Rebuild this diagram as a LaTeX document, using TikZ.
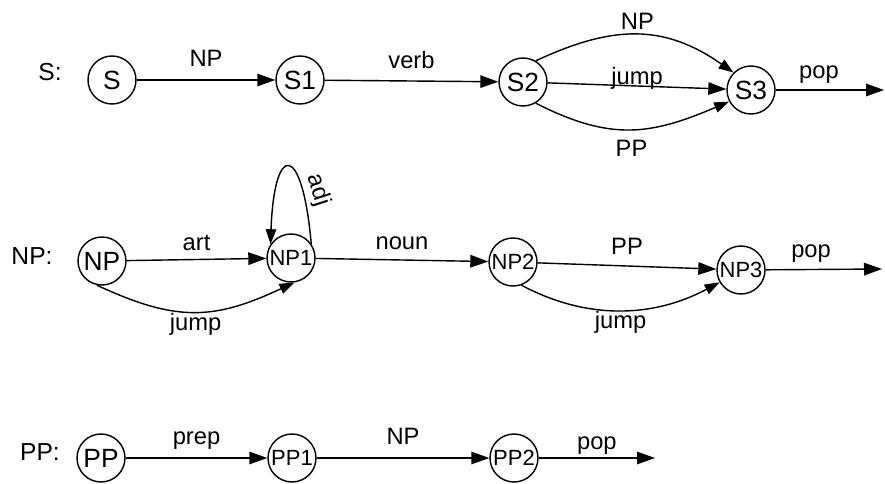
\documentclass[tikz,border=0pt]{standalone}
\usepackage{fontspec}
\setmainfont{Liberation Sans}
\usetikzlibrary{arrows.meta}

\begin{document}
\begin{tikzpicture}[
    zustand/.style={draw, circle, line width=0.8pt, inner sep=0pt, minimum size=0.96cm, font=\fontsize{15}{17}\selectfont},
    klein/.style={font=\fontsize{12.5}{14}\selectfont},
    netz/.style={font=\fontsize{14}{16}\selectfont},
    kante/.style={-{Triangle[length=3.6mm, width=2.5mm]}, line width=0.8pt},
    bogen/.style={-{Triangle[length=3mm, width=2.1mm]}, line width=0.8pt},
    lbl/.style={anchor=base, font=\fontsize{13.5}{15}\selectfont}
]
    \useasboundingbox (0,0) rectangle (17.7,-9.68);

    % Netz S
    \node[netz] (lS) at (1.00,-1.45) {S:};
    \node[zustand] (s) at (2.24,-1.60) {S};
    \node[zustand] (s1) at (6.00,-1.60) {S1};
    \node[zustand] (s2) at (10.46,-1.64) {S2};
    \node[zustand] (s3) at (15.02,-1.80) {S3};
    \coordinate (s4) at (17.68,-1.80);

    \draw[kante] (s) -- node[lbl, yshift=0.26cm] {NP} (s1);
    \draw[kante] (s1) -- node[lbl, yshift=0.24cm] {verb} (s2);
    \draw[kante] (s2) -- node[lbl, yshift=0.02cm] {jump} (s3);
    \draw[bogen] (s2.59) .. controls +(25:1.7) and +(145:1.7) .. node[lbl, yshift=0.1cm] {NP} (s3.135);
    \draw[bogen] (s2.-59) .. controls +(-27:1.7) and +(-157:1.7) .. node[lbl, yshift=-0.55cm] {PP} (s3.-152);
    \draw[kante] (s3) -- node[lbl, pos=0.4, yshift=0.22cm] {pop} (s4);

    % Netz NP
    \node[netz] (lNP) at (0.64,-5.12) {NP:};
    \node[zustand] (np) at (2.04,-5.22) {NP};
    \node[zustand, klein] (np1) at (5.82,-5.16) {NP1};
    \node[zustand, klein] (np2) at (10.26,-5.24) {NP2};
    \node[zustand, klein] (np3) at (14.82,-5.40) {NP3};
    \coordinate (np4) at (17.64,-5.38);

    \draw[kante] (np) -- node[lbl, yshift=0.17cm] {art} (np1);
    \draw[bogen] (np1.35) .. controls +(95:2.05) and +(88:2.05) .. node[lbl, pos=0.2, anchor=south, rotate=-72, inner sep=2pt] {adj} (np1.146);
    \draw[bogen] (np.-102) .. controls +(-25:1.77) and +(-155:1.77) .. node[lbl, yshift=-0.38cm] {jump} (np1.-82);
    \draw[kante] (np1) -- node[lbl, yshift=0.2cm] {noun} (np2);
    \draw[kante] (np2) -- node[lbl, yshift=0.22cm] {PP} (np3);
    \draw[bogen] (np2.-70) .. controls +(-28:1.5) and +(-152:1.5) .. node[lbl, yshift=-0.36cm] {jump} (np3.-150);
    \draw[kante] (np3) -- node[lbl, pos=0.39, yshift=0.25cm] {pop} (np4);

    % Netz PP
    \node[netz] (lPP) at (0.80,-9.04) {PP:};
    \node[zustand] (pp) at (2.02,-9.16) {PP};
    \node[zustand, klein] (pp1) at (5.84,-9.16) {PP1};
    \node[zustand, klein] (pp2) at (10.28,-9.16) {PP2};
    \coordinate (pp3) at (13.10,-9.16);

    \draw[kante] (pp) -- node[lbl, yshift=0.28cm] {prep} (pp1);
    \draw[kante] (pp1) -- node[lbl, yshift=0.28cm] {NP} (pp2);
    \draw[kante] (pp2) -- node[lbl, yshift=0.18cm] {pop} (pp3);
\end{tikzpicture}
\end{document}
